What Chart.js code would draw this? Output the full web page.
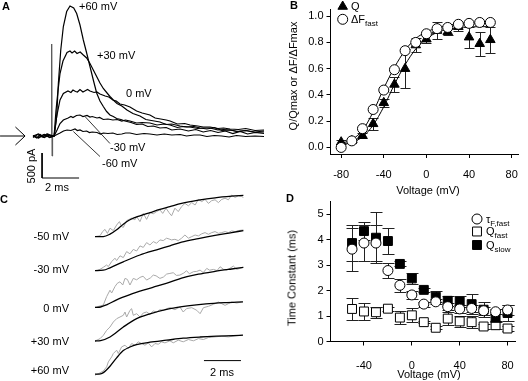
<!DOCTYPE html>
<html lang="en">
<head>
<meta charset="UTF-8">
<title>Gating currents and fluorescence</title>
<script src="https://cdn.jsdelivr.net/npm/chart.js"></script>
<style>
  body { margin: 0; background: #fff; }
  #fig { position: relative; width: 528px; height: 381px; overflow: hidden; font-family: "Liberation Sans", Arial, sans-serif; color: #000; }
  #fig canvas { position: absolute; }
  .t { position: absolute; font-size: 11px; line-height: 1; white-space: nowrap; }
  .c { transform: translate(-50%, -50%); }
  .l { transform: translate(0, -50%); }
  .r { transform: translate(-100%, -50%); }
  .v { transform: translate(-50%, -50%) rotate(-90deg); }
  .p { font-weight: bold; }
  sub { font-size: 8px; vertical-align: -3px; line-height: 0; }
</style>
</head>
<body>
<div id="fig">
  <canvas id="cA" width="264" height="190" style="left:0;top:0;width:264px;height:190px"></canvas>
  <canvas id="cB" width="264" height="190" style="left:264px;top:0;width:264px;height:190px"></canvas>
  <canvas id="cC" width="264" height="191" style="left:0;top:190px;width:264px;height:191px"></canvas>
  <canvas id="cD" width="264" height="189" style="left:264px;top:192px;width:264px;height:189px"></canvas>

  <!-- panel A -->
  <div class="t c p" style="left:6px;top:6px">A</div>
  <div class="t l" style="left:79px;top:6px">+60 mV</div>
  <div class="t l" style="left:97px;top:55px">+30 mV</div>
  <div class="t l" style="left:126px;top:93px">0 mV</div>
  <div class="t l" style="left:110px;top:147px">-30 mV</div>
  <div class="t l" style="left:102px;top:163px">-60 mV</div>
  <div class="t v" style="left:31px;top:166px">500 pA</div>
  <div class="t c" style="left:57px;top:187px">2 ms</div>

  <!-- panel B -->
  <div class="t c p" style="left:294px;top:5px">B</div>
  <div class="t l" style="left:351px;top:6px">Q</div>
  <div class="t l" style="left:351px;top:19px">&Delta;F<sub>fast</sub></div>
  <div class="t v" style="left:293px;top:76px">Q/Qmax or &Delta;F/&Delta;Fmax</div>
  <div class="t c" style="left:428px;top:190px">Voltage (mV)</div>

  <!-- panel C -->
  <div class="t c p" style="left:4px;top:199px">C</div>
  <div class="t r" style="left:69px;top:236px">-50 mV</div>
  <div class="t r" style="left:69px;top:269px">-30 mV</div>
  <div class="t r" style="left:69px;top:308px">0 mV</div>
  <div class="t r" style="left:69px;top:341px">+30 mV</div>
  <div class="t r" style="left:69px;top:370px">+60 mV</div>
  <div class="t c" style="left:222px;top:372px">2 ms</div>

  <!-- panel D -->
  <div class="t c p" style="left:290px;top:198px">D</div>
  <div class="t l" style="left:486px;top:219px">&tau;<sub>F,fast</sub></div>
  <div class="t l" style="left:486px;top:231px">Q<sub>fast</sub></div>
  <div class="t l" style="left:486px;top:245px">Q<sub>slow</sub></div>
  <div class="t v" style="left:292px;top:278px">Time Constant (ms)</div>
  <div class="t c" style="left:429px;top:374px">Voltage (mV)</div>
</div>

<script>
// ---------- A: gating current traces, [time (ms), current (pA)]
const trP60 = [[0,10],[0.2,-40],[0.4,30],[0.6,-30],[0.8,40],[1.0,0],[1.14,0],[1.28,390],[1.37,1050],[1.5,1720],[1.64,2190],[1.82,2490],[2.0,2600],[2.2,2560],[2.36,2450],[2.54,2220],[2.72,1920],[2.9,1660],[3.08,1390],[3.26,1120],[3.44,860],[3.62,700],[3.8,590],[3.98,490],[4.16,420],[4.34,390],[4.52,350],[4.75,330],[4.97,300],[5.3,270],[5.6,230],[5.9,240],[6.2,190],[6.5,200],[6.86,160],[7.2,170],[7.5,120],[7.95,140],[8.4,100],[8.8,130],[9.2,80],[9.6,110],[10.0,70],[10.4,100],[10.8,50],[11.2,90],[11.6,40],[12.0,70],[12.49,50]];
const trP30 = [[0,-30],[0.25,30],[0.5,-20],[0.75,40],[1.0,-10],[1.14,0],[1.24,500],[1.35,900],[1.46,1250],[1.62,1500],[1.84,1670],[2.0,1700],[2.11,1660],[2.25,1700],[2.38,1650],[2.55,1680],[2.72,1620],[2.9,1560],[3.08,1450],[3.26,1320],[3.44,1190],[3.62,1060],[3.8,950],[3.98,870],[4.16,790],[4.34,720],[4.54,650],[4.8,600],[5.08,520],[5.4,450],[5.78,400],[6.1,330],[6.4,310],[6.86,280],[7.2,230],[7.5,240],[7.95,200],[8.3,180],[8.7,190],[9.03,160],[9.4,140],[9.8,170],[10.2,110],[10.65,120],[11.0,90],[11.5,110],[12.0,70],[12.49,80]];
const tr0 = [[0,0],[0.3,-40],[0.6,30],[0.9,-30],[1.14,0],[1.28,390],[1.46,720],[1.64,850],[1.89,900],[2.05,870],[2.16,920],[2.3,890],[2.4,880],[2.54,930],[2.7,880],[2.8,900],[2.95,930],[3.08,900],[3.3,870],[3.45,880],[3.62,840],[3.9,800],[4.1,780],[4.32,720],[4.5,700],[4.7,640],[4.95,620],[5.24,580],[5.6,500],[5.9,460],[6.32,420],[6.6,360],[6.9,340],[7.2,320],[7.41,300],[7.8,240],[8.2,250],[8.49,220],[8.9,200],[9.2,180],[9.57,180],[10.0,150],[10.3,160],[10.65,140],[11.1,130],[11.5,150],[12.0,110],[12.49,120]];
const trM30 = [[0,0],[0.3,40],[0.6,-30],[0.9,20],[1.14,0],[1.3,120],[1.46,250],[1.64,320],[1.9,360],[2.05,390],[2.16,370],[2.35,410],[2.54,420],[2.7,390],[2.92,410],[3.08,380],[3.2,390],[3.46,360],[3.6,370],[3.8,330],[4.05,340],[4.32,320],[4.55,330],[4.8,300],[5.0,320],[5.24,300],[5.6,260],[5.9,270],[6.32,260],[6.7,220],[7.1,240],[7.41,220],[7.8,170],[8.1,190],[8.49,180],[8.9,150],[9.2,160],[9.57,160],[10.0,120],[10.3,130],[10.65,120],[11.1,90],[11.5,110],[12.0,80],[12.49,100]];
const trM60 = [[0,0],[0.3,-30],[0.6,30],[0.9,-20],[1.14,0],[1.46,60],[1.65,100],[1.84,120],[2.05,110],[2.27,140],[2.4,110],[2.54,120],[2.7,90],[2.9,100],[3.05,70],[3.2,80],[3.46,70],[3.65,40],[3.8,60],[4.05,50],[4.32,60],[4.55,30],[4.8,40],[5.0,60],[5.24,60],[5.6,30],[6.0,50],[6.32,40],[6.7,20],[7.1,40],[7.5,20],[7.95,30],[8.3,0],[8.7,20],[9.03,20],[9.4,-10],[9.8,10],[10.2,0],[10.6,-20],[11.0,10],[11.5,-10],[12.0,0],[12.49,-10]];
const artifactA = [[1.0,0],[1.01,1840],[1.03,-400],[1.06,0]];
const leaderM30 = [[2.81,390],[4.16,-150]];
const leaderM60 = [[2.18,90],[3.62,-410]];
const scaleBarA = [[0.49,-340],[0.49,-840],[2.49,-840]];   // 500 pA, 2 ms
const arrowShaft = [[-1.78,0],[-0.45,0]];
const arrowHead = [[-0.95,180],[-0.43,0],[-0.95,-180]];

// ---------- B: normalized Q and dF vs voltage
const voltsB = [-80,-70,-60,-50,-40,-30,-20,-10,0,10,20,30,40,50,60];
const qNorm  = [0.04,0.05,0.09,0.18,0.34,0.48,0.60,0.78,0.825,0.89,0.88,0.92,0.84,0.79,0.82];
const qErr   = [0.015,0.01,0.02,0.045,0.03,0.06,0.15,0.05,0.03,0.065,0.02,0.036,0.08,0.09,0.10];
const dfNorm = [0.0,0.05,0.143,0.289,0.437,0.592,0.737,0.80,0.866,0.905,0.914,0.938,0.945,0.952,0.952];
const fitDF  = [0.03,0.06,0.13,0.27,0.45,0.61,0.74,0.83,0.88,0.91,0.93,0.94,0.945,0.95,0.95];
const fitQ   = [0.02,0.04,0.08,0.17,0.31,0.48,0.63,0.75,0.83,0.875,0.9,0.912,0.918,0.92,0.92];
const ticksBx = [-80,-40,0,40,80];
const ticksBy = [0,0.2,0.4,0.6,0.8,1.0];

// ---------- C: normalized fluorescence traces (gray) and fits (black), [time (ms), F/Fmax]
const rawM50 = [[0,0],[0.27,0.02],[0.41,0.125],[0.54,0.18],[0.67,0.08],[0.81,0.21],[0.99,0.15],[1.17,0.29],[1.32,0.375],[1.44,0.25],[1.53,0.23],[1.71,0.40],[1.98,0.46],[2.16,0.42],[2.25,0.5],[2.43,0.375],[2.61,0.58],[2.79,0.43],[2.97,0.6],[3.15,0.57],[3.33,0.625],[3.51,0.67],[3.66,0.58],[3.84,0.71],[4.0,0.6],[4.14,0.52],[4.32,0.71],[4.5,0.625],[4.68,0.75],[4.86,0.83],[5.05,0.77],[5.23,0.85],[5.41,0.79],[5.59,0.93],[5.77,0.875],[5.95,0.93],[6.13,0.83],[6.31,0.9],[6.49,0.92],[6.67,0.85],[6.85,0.93],[7.03,0.96],[7.21,0.92],[7.39,1.04],[7.57,0.98],[7.75,1.02],[7.93,1.0],[8.02,0.98]];
const fitM50 = [[0,0],[0.45,0],[0.81,0.06],[1.17,0.17],[1.53,0.31],[1.89,0.42],[2.43,0.52],[2.97,0.6],[3.51,0.68],[4.05,0.75],[4.68,0.83],[5.59,0.91],[6.49,0.97],[7.39,1.01],[8.02,1.03]];
const rawM30 = [[0,0],[0.27,0.03],[0.45,0.083],[0.63,0.14],[0.72,0.1],[0.9,0.225],[1.08,0.31],[1.17,0.25],[1.35,0.37],[1.53,0.325],[1.71,0.475],[1.89,0.42],[2.07,0.53],[2.25,0.49],[2.43,0.617],[2.61,0.58],[2.79,0.7],[2.97,0.64],[3.15,0.725],[3.33,0.683],[3.51,0.767],[3.69,0.75],[3.87,0.81],[4.05,0.783],[4.14,0.767],[4.32,0.783],[4.5,0.75],[4.68,0.81],[4.86,0.89],[5.05,0.81],[5.23,0.85],[5.41,0.89],[5.59,0.867],[5.77,0.92],[5.95,0.95],[6.13,0.908],[6.31,0.95],[6.49,0.975],[6.67,0.933],[6.85,0.95],[7.03,0.975],[7.21,0.95],[7.39,0.992],[7.57,0.975],[7.75,1.0],[8.02,1.017]];
const fitM30 = [[0,0],[0.45,0.01],[0.81,0.07],[1.53,0.22],[2.43,0.39],[3.33,0.52],[4.05,0.62],[4.68,0.71],[5.59,0.8],[6.49,0.88],[7.39,0.95],[8.02,1.0]];
const raw0   = [[0,0],[0.45,0.06],[0.63,0.27],[0.81,0.43],[0.9,0.36],[1.08,0.52],[1.2,0.6],[1.35,0.64],[1.5,0.56],[1.62,0.725],[1.75,0.7],[1.89,0.56],[2.07,0.725],[2.25,0.69],[2.43,0.75],[2.6,0.78],[2.79,0.683],[3.0,0.74],[3.15,0.808],[3.3,0.79],[3.51,0.725],[3.7,0.76],[3.87,0.833],[4.05,0.85],[4.23,0.867],[4.4,0.8],[4.59,0.808],[4.8,0.86],[4.95,0.917],[5.1,0.84],[5.32,0.892],[5.5,0.9],[5.68,0.933],[5.85,0.87],[6.04,0.975],[6.2,0.93],[6.4,0.95],[6.6,0.92],[6.76,1.017],[6.95,0.95],[7.12,0.933],[7.3,0.98],[7.48,1.033],[7.66,0.95],[7.84,0.975],[7.98,1.0]];
const fit0   = [[0,0],[0.3,0.01],[0.63,0.065],[1.17,0.19],[1.89,0.32],[2.61,0.43],[3.33,0.53],[4.05,0.63],[4.68,0.73],[5.59,0.83],[6.49,0.9],[7.39,0.96],[8.02,1.0]];
const rawP30 = [[0,0],[0.27,0.058],[0.45,0.142],[0.63,0.267],[0.81,0.35],[0.99,0.475],[1.17,0.558],[1.35,0.6],[1.53,0.642],[1.62,0.725],[1.71,0.6],[1.89,0.767],[1.98,0.808],[2.07,0.642],[2.25,0.683],[2.43,0.6],[2.61,0.7],[2.79,0.725],[2.97,0.667],[3.15,0.75],[3.33,0.725],[3.51,0.783],[3.69,0.767],[3.87,0.808],[4.05,0.833],[4.32,0.783],[4.59,0.85],[4.77,0.725],[4.95,0.81],[5.23,0.833],[5.5,0.767],[5.68,0.683],[5.86,0.833],[6.13,0.867],[6.4,0.917],[6.67,0.975],[6.85,0.933],[7.03,0.892],[7.21,0.933],[7.39,0.975],[7.66,0.95],[7.93,0.975]];
const fitP30 = [[0,0],[0.3,0.01],[0.81,0.1],[1.53,0.35],[2.25,0.56],[2.97,0.68],[4.05,0.81],[5.0,0.88],[6.0,0.93],[7.0,0.96],[8.0,0.98]];
const rawP60 = [[0,-0.025],[0.27,0.033],[0.45,0.083],[0.63,0.183],[0.72,0.308],[0.9,0.433],[0.99,0.517],[1.17,0.6],[1.26,0.517],[1.44,0.683],[1.62,0.725],[1.8,0.642],[1.98,0.767],[2.16,0.725],[2.34,0.808],[2.52,0.767],[2.7,0.725],[2.88,0.783],[3.06,0.683],[3.24,0.767],[3.42,0.75],[3.6,0.808],[3.78,0.783],[4.05,0.835],[4.23,0.785],[4.5,0.85],[4.77,0.81],[5.05,0.867],[5.32,0.835],[5.59,0.89],[5.86,0.867],[6.13,0.917],[6.49,0.933],[6.85,0.95],[7.21,0.933],[7.57,0.958],[7.93,0.975]];
const fitP60 = [[0,0],[0.3,0.01],[0.45,0.04],[0.81,0.2],[1.17,0.41],[1.53,0.59],[1.89,0.68],[2.25,0.74],[2.97,0.8],[3.87,0.85],[4.77,0.9],[5.68,0.93],[6.58,0.95],[7.48,0.965],[8.0,0.975]];
const stackOffsets = [3.61, 2.76, 1.84, 1.0, 0.17];   // -50, -30, 0, +30, +60 mV
const scaleBarC = [[5.89,0.51],[7.89,0.51]];           // 2 ms

// ---------- D: time constants vs voltage
const voltsD   = [-50,-40,-30,-20,-10,0,10,20,30,40,50,60,70,80];
const tauFast  = [3.63,3.87,3.87,2.79,2.21,1.83,1.47,1.56,1.37,1.28,1.3,1.21,1.17,1.24];
const tauErr   = [0.85,0.72,0.72,0.3,0.25,0.15,0.1,0.1,0.15,0.15,0.15,0.15,0.1,0.2];
const qFast    = [1.28,1.18,1.15,1.29,0.94,1.03,0.76,0.54,0.9,0.79,0.76,0.59,0.64,0.51];
const qFastErr = [0.42,0.32,0.22,0.08,0.25,0.28,0.05,0.05,0.25,0.22,0.24,0.1,0.15,0.08];
const qSlow    = [3.87,4.34,4.08,3.95,3.05,2.48,2.03,1.76,1.6,1.57,1.47,1.25,0.93,1.12];
const qSlowErr = [0.7,0.36,1.0,0.5,0.1,0.22,0.08,0.22,0.2,0.2,0.38,0.3,0.15,0.33];
const ticksDx = [-40,0,40,80];
const ticksDy = [0,1,2,3,4,5];

// ---------- helpers
const pts = arr => arr.map(([x, y]) => ({ x, y }));
const zip = (xs, ys) => xs.map((x, i) => ({ x, y: ys[i] }));
const stack = (arr, off) => arr.map(([x, y]) => ({ x, y: y + off }));
const FONT = { family: 'Liberation Sans', size: 11 };

function line(data, color, width, extra) {
  return Object.assign({ data, showLine: true, borderColor: color, borderWidth: width,
    pointRadius: 0, fill: false, tension: 0 }, extra || {});
}

function hiddenAxes(xmin, xmax, ymin, ymax) {
  return {
    x: { type: 'linear', display: false, min: xmin, max: xmax },
    y: { type: 'linear', display: false, min: ymin, max: ymax }
  };
}

function axis(min, max, ticks, o) {
  return {
    type: 'linear', min, max,
    afterBuildTicks: s => { s.ticks = ticks.map(v => ({ value: v })); },
    afterFit: s => { if (o.w) s.width = o.w; if (o.h) s.height = o.h; },
    border: { display: true, color: '#000', width: 1 },
    grid: { display: true, drawOnChartArea: false, drawTicks: true, tickLength: 4, color: '#000' },
    ticks: { color: '#000', font: FONT, padding: o.pad, autoSkip: false, maxRotation: 0,
      callback: o.fmt || (v => v) }
  };
}

function baseOptions(scales, padding) {
  return {
    responsive: false, animation: false, devicePixelRatio: 1, events: [],
    layout: { padding: padding || 0 },
    plugins: { legend: { display: false }, tooltip: { enabled: false } },
    scales
  };
}

// vertical error bars with caps, in data units of the y scale
function errorBars(cap) {
  return {
    id: 'errorBars',
    beforeDatasetsDraw(chart) {
      const ctx = chart.ctx, y = chart.scales.y;
      ctx.save();
      ctx.strokeStyle = '#222';
      ctx.lineWidth = 1;
      chart.data.datasets.forEach((ds, i) => {
        if (!ds.errors) return;
        chart.getDatasetMeta(i).data.forEach((pt, j) => {
          const e = ds.errors[j];
          if (!e) return;
          const v = ds.data[j].y;
          const y1 = Math.round(y.getPixelForValue(v + e)) + 0.5;
          const y2 = Math.round(y.getPixelForValue(v - e)) + 0.5;
          const x = Math.round(pt.x) + 0.5;
          ctx.beginPath();
          ctx.moveTo(x, y1); ctx.lineTo(x, y2);
          ctx.moveTo(x - cap, y1); ctx.lineTo(x + cap, y1);
          ctx.moveTo(x - cap, y2); ctx.lineTo(x + cap, y2);
          ctx.stroke();
        });
      });
      ctx.restore();
    }
  };
}

// legend symbols (text is html)
function legendMarks(items) {
  return {
    id: 'legendMarks',
    afterDatasetsDraw(chart) {
      const ctx = chart.ctx;
      items.forEach(m => {
        ctx.save();
        ctx.beginPath();
        if (m.style === 'circle') {
          ctx.arc(m.x, m.y, m.r, 0, Math.PI * 2);
        } else if (m.style === 'rect') {
          const s = m.r * Math.SQRT1_2;
          ctx.rect(m.x - s, m.y - s, 2 * s, 2 * s);
        } else {
          ctx.moveTo(m.x, m.y - m.r);
          ctx.lineTo(m.x + m.r * 0.866, m.y + m.r / 2);
          ctx.lineTo(m.x - m.r * 0.866, m.y + m.r / 2);
          ctx.closePath();
        }
        ctx.fillStyle = m.fill; ctx.fill();
        ctx.strokeStyle = '#000'; ctx.lineWidth = 1; ctx.stroke();
        ctx.restore();
      });
    }
  };
}

// ---------- A
new Chart(document.getElementById('cA'), {
  type: 'scatter',
  data: { datasets: [
    line(pts(trP60), '#000', 1.2),
    line(pts(trP30), '#000', 1.2),
    line(pts(tr0), '#000', 1.2),
    line(pts(trM30), '#000', 1.2),
    line(pts(trM60), '#000', 1.2),
    line(pts(artifactA), '#555', 1),
    line(pts(leaderM30), '#000', 0.8),
    line(pts(leaderM60), '#000', 0.8),
    line(pts(scaleBarA), '#000', 1),
    line(pts(arrowShaft), '#000', 1),
    line(pts(arrowHead), '#000', 1)
  ]},
  options: baseOptions(hiddenAxes(-1.784, 12.486, -1080, 2720))
});

// ---------- B
new Chart(document.getElementById('cB'), {
  type: 'scatter',
  data: { datasets: [
    line(zip(voltsB, fitDF), '#000', 1, { cubicInterpolationMode: 'monotone', order: 5 }),
    line(zip(voltsB, fitQ), '#000', 1, { cubicInterpolationMode: 'monotone', order: 5 }),
    { label: 'Q', data: zip(voltsB, qNorm), errors: qErr, pointStyle: 'triangle', pointRadius: 5.5,
      backgroundColor: '#000', borderColor: '#000', borderWidth: 1, order: 2 },
    { label: 'ΔFfast', data: zip(voltsB, dfNorm), pointStyle: 'circle', pointRadius: 5,
      backgroundColor: '#fff', borderColor: '#000', borderWidth: 1, order: 1 }
  ]},
  options: baseOptions({
    x: axis(-90, 86, ticksBx, { h: 36, pad: 10 }),
    y: axis(-0.05, 1.05, ticksBy, { w: 66.5, pad: 3, fmt: v => v.toFixed(1) })
  }, { top: 0, right: 4, left: 0, bottom: 0 }),
  plugins: [errorBars(5), legendMarks([
    { style: 'triangle', x: 78.7, y: 6.5, r: 5.5, fill: '#000' },
    { style: 'circle', x: 78.7, y: 19.3, r: 5, fill: '#fff' }
  ])]
});

// ---------- C
const rawC = [rawM50, rawM30, raw0, rawP30, rawP60];
const fitC = [fitM50, fitM30, fit0, fitP30, fitP60];
const dsC = [];
rawC.forEach((r, i) => dsC.push(line(stack(r, stackOffsets[i]), '#a9a9a9', 1, { order: 2 })));
fitC.forEach((f, i) => dsC.push(line(stack(f, stackOffsets[i]), '#000', 1.3, { cubicInterpolationMode: 'monotone', order: 1 })));
dsC.push(line(pts(scaleBarC), '#000', 1, { order: 1 }));
new Chart(document.getElementById('cC'), {
  type: 'scatter',
  data: { datasets: dsC },
  options: baseOptions(hiddenAxes(-5.135, 9.135, 0, 4.775))
});

// ---------- D
new Chart(document.getElementById('cD'), {
  type: 'scatter',
  data: { datasets: [
    { label: 'τF,fast', data: zip(voltsD, tauFast), errors: tauErr, pointStyle: 'circle', pointRadius: 5,
      backgroundColor: '#fff', borderColor: '#000', borderWidth: 1, order: 1 },
    { label: 'Qfast', data: zip(voltsD, qFast), errors: qFastErr, pointStyle: 'rect', pointRadius: 6.3,
      backgroundColor: '#fff', borderColor: '#000', borderWidth: 1, order: 3 },
    { label: 'Qslow', data: zip(voltsD, qSlow), errors: qSlowErr, pointStyle: 'rect', pointRadius: 6.3,
      backgroundColor: '#000', borderColor: '#000', borderWidth: 1, order: 2 }
  ]},
  options: baseOptions({
    x: axis(-68, 87, ticksDx, { h: 39.5, pad: 14 }),
    y: axis(0, 5.5, ticksDy, { w: 66.5, pad: 3 })
  }, { top: 7.4, right: 3, left: 0, bottom: 0 }),
  plugins: [errorBars(6), legendMarks([
    { style: 'circle', x: 213, y: 27, r: 5, fill: '#fff' },
    { style: 'rect', x: 213, y: 39.5, r: 6.3, fill: '#fff' },
    { style: 'rect', x: 213, y: 53, r: 6.3, fill: '#000' }
  ])]
});
</script>
</body>
</html>
